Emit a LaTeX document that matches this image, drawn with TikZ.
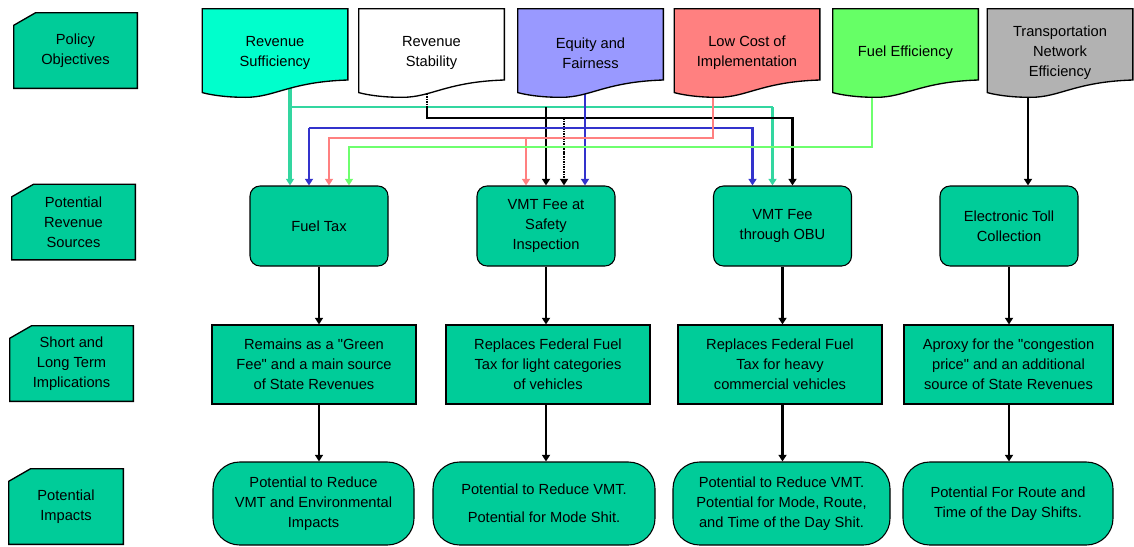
\documentclass[tikz,border=0pt]{standalone}
\usepackage{fontspec}
\setmainfont{Liberation Sans}[Ligatures=TeXOff]
\usetikzlibrary{arrows.meta,calc,backgrounds}

% box and line colours
\definecolor{boxgreen}{RGB}{0,204,153}
\definecolor{suffcol}{RGB}{0,255,204}
\definecolor{eqcol}{RGB}{153,153,255}
\definecolor{lowcol}{RGB}{255,128,128}
\definecolor{fuelcol}{RGB}{102,255,102}
\definecolor{tnecol}{RGB}{178,178,178}
\definecolor{tealline}{RGB}{51,214,160}
\definecolor{blueline}{RGB}{51,51,204}
\definecolor{pinkline}{RGB}{255,128,128}
\definecolor{greenline}{RGB}{110,255,110}

\tikzset{
  txt/.style={font=\fontsize{11}{15}\selectfont, align=center, inner sep=0pt},
  % row labels on the left (cut top-left corner)
  labelbox/.style={txt, minimum width=#1, minimum height=57.75pt,
    path picture={
      \filldraw[fill=boxgreen, draw=black, line width=1pt]
        let \p1=(path picture bounding box.north west),
            \p2=(path picture bounding box.south east) in
        ({\x1+0.5pt},{\y1-10pt}) -- ({\x1+17pt},{\y1-0.5pt})
        -- ({\x2-0.5pt},{\y1-0.5pt}) -- ({\x2-0.5pt},{\y2+0.5pt})
        -- ({\x1+0.5pt},{\y2+0.5pt}) -- cycle;
    }},
  labelbox/.default=93.75pt,
  % policy objectives (document shape with wavy bottom)
  objbox/.style={txt, minimum width=110.25pt, minimum height=67.5pt,
    path picture={
      \filldraw[fill=#1, draw=black, line width=1pt]
        let \p1=(path picture bounding box.north west),
            \p2=(path picture bounding box.south east) in
        ({\x1+0.5pt},{\y1-0.5pt}) -- ({\x2-0.5pt},{\y1-0.5pt})
        -- ({\x2-0.5pt},{\y1-0.8*(\y1-\y2)})
        .. controls ({\x1+0.6*(\x2-\x1)},{\y1-0.82*(\y1-\y2)}) and ({\x1+0.5*(\x2-\x1)},{\y2+0.5pt}) .. ({\x1+0.3*(\x2-\x1)},{\y2+0.5pt})
        .. controls ({\x1+0.15*(\x2-\x1)},{\y2+0.5pt}) and ({\x1+0.05*(\x2-\x1)},{\y2+0.04*(\y1-\y2)}) .. ({\x1+0.5pt},{\y2+0.06*(\y1-\y2)})
        -- cycle;
    }},
  srcbox/.style={txt, draw, fill=boxgreen, line width=0.8pt, rounded corners=7.5pt,
    minimum width=103.5pt, minimum height=60pt},
  impbox/.style={txt, draw, fill=boxgreen, line width=0.8pt,
    minimum width=153pt, minimum height=59.25pt},
  outbox/.style={txt, draw, fill=boxgreen, line width=0.8pt, rounded corners=20pt,
    minimum width=#1, minimum height=62.25pt},
  % connectors
  arr/.style={-{Triangle[width=6pt,length=5pt]}},
  blackln/.style={draw=black, line width=2pt},
  thinblack/.style={draw=black, line width=1.1pt},
  ticked/.style={dash pattern=on 1.2pt off 0.7pt},
  tealthick/.style={draw=tealline, line width=2.4pt},
  tealthin/.style={draw=tealline, line width=1.3pt},
  blueln/.style={draw=blueline, line width=1.8pt},
  pinkln/.style={draw=pinkline, line width=1.4pt},
  greenln/.style={draw=greenline, line width=1.4pt}
}

\begin{document}
\begin{tikzpicture}[x=0.75pt,y=-0.75pt]

  \useasboundingbox (0,0) rectangle (1134,546);

  % Row labels
  \node[labelbox] (lpol) at (75.5,50.5) {Policy\\Objectives};
  \node[labelbox] (lsrc) at (73.5,222) {Potential\\Revenue\\Sources};
  \node[labelbox] (limp) at (71.5,363.5) {Short and\\Long Term\\Implications};
  \node[labelbox=87pt] (lout) at (66,506.5) {Potential\\Impacts};

  % Policy objectives
  \node[objbox=suffcol] (suff) at (275,53) {Revenue\\Sufficiency};
  \node[objbox=white] (stab) at (431.5,53) {Revenue\\Stability};
  \node[objbox=eqcol] (equi) at (590.5,53) {Equity and\\Fairness};
  \node[objbox=lowcol] (lowc) at (747,53) {Low Cost of\\Implementation};
  \node[objbox=fuelcol] (fuel) at (905.5,53) {Fuel Efficiency};
  \node[objbox=tnecol] (tnet) at (1060,53) {Transportation\\Network\\Efficiency};

  % Potential revenue sources
  \node[srcbox] (ftax) at (319,226) {Fuel Tax};
  \node[srcbox] (vsafe) at (546,226) {VMT Fee at\\Safety\\Inspection};
  \node[srcbox] (vobu) at (782.5,226) {VMT Fee\\through OBU};
  \node[srcbox] (etoll) at (1009,226) {Electronic Toll\\Collection};

  % Short and long term implications
  \node[impbox] (iftax) at (314,364.5) {Remains as a "Green\\Fee" and a main source\\of State Revenues};
  \node[impbox] (ivsafe) at (548,364.5) {Replaces Federal Fuel\\Tax for light categories\\of vehicles};
  \node[impbox] (ivobu) at (780,364.5) {Replaces Federal Fuel\\Tax for heavy\\commercial vehicles};
  \node[impbox, minimum width=156.75pt] (ietoll) at (1008.5,364.5) {Aproxy for the "congestion\\price" and an additional\\source of State Revenues};

  % Potential impacts
  \node[outbox=150.75pt] (oftax) at (313.5,503.5) {Potential to Reduce\\VMT and Environmental\\Impacts};
  \node[outbox=166.5pt] (ovsafe) at (544,503.5) {Potential to Reduce VMT.\\[6pt]Potential for Mode Shit.};
  \node[outbox=162.75pt] (ovobu) at (781.5,503.5) {Potential to Reduce VMT.\\Potential for Mode, Route,\\and Time of the Day Shit.};
  \node[outbox=157.5pt] (oetoll) at (1008,503.5) {Potential For Route and\\Time of the Day Shifts.};

  % Arrow ends on the revenue sources
  \coordinate (ft1) at ($(ftax.north)+(-29,0)$);
  \coordinate (ft2) at ($(ftax.north)+(-10,0)$);
  \coordinate (ft3) at ($(ftax.north)+(10,0)$);
  \coordinate (ft4) at ($(ftax.north)+(30,0)$);
  \coordinate (vs1) at ($(vsafe.north)+(-20,0)$);
  \coordinate (vs2) at ($(vsafe.north)+(0,0)$);
  \coordinate (vs3) at ($(vsafe.north)+(18,0)$);
  \coordinate (vs4) at ($(vsafe.north)+(39,0)$);
  \coordinate (vo1) at ($(vobu.north)+(-30,0)$);
  \coordinate (vo2) at ($(vobu.north)+(-10,0)$);
  \coordinate (vo3) at ($(vobu.north)+(10,0)$);
  \coordinate (et1) at ($(etoll.north)+(19,0)$);

  % Knee points of the routed lines
  \coordinate (kteal) at ($(suff)+(15,54)$);
  \coordinate (kblack) at ($(stab)+(-4.5,65)$);
  \coordinate (kblue) at ($(equi)+(-5.5,75)$);
  \coordinate (kpink) at ($(lowc)+(-34,85)$);
  \coordinate (kgreen) at ($(fuel)+(-33.5,94)$);

  \begin{scope}[on background layer]
    % Revenue Sufficiency
    \draw[tealthick, arr] ($(suff)+(15,0)$) -- (ft1);
    \draw[tealthin] (kteal) -- (kteal -| vo2);
    \draw[tealthick, arr] (kteal -| vo2) -- (vo2);

    % Revenue Stability
    \draw[blackln, ticked] ($(stab)+(-4.5,0)$) -- ($(stab)+(-4.5,54)$);
    \draw[blackln, arr] ($(stab)+(-4.5,54)$) -- (kblack) -| (vo3);
    \draw[blackln, arr] (vs2 |- kteal) -- (vs2);
    \draw[blackln, ticked, arr] (vs3 |- kblack) -- (vs3);

    % Equity and Fairness
    \draw[blueln, arr] ($(equi)+(-5.5,0)$) -- (vs4);
    \draw[blueln, arr] (kblue -| ft2) -- (ft2);
    \draw[blueln, arr] (kblue -| ft2) -- (kblue -| vo1) -- (vo1);

    % Low Cost of Implementation
    \draw[pinkln, arr] ($(lowc)+(-34,0)$) -- (kpink) -| (ft3);
    \draw[pinkln, arr] (kpink -| vs1) -- (vs1);

    % Fuel Efficiency
    \draw[greenln, arr] ($(fuel)+(-33.5,0)$) -- (kgreen) -| (ft4);

    % Transportation Network Efficiency
    \draw[blackln, arr] ($(tnet)+(-32,0)$) -- (et1);
  \end{scope}

  % Sources to implications
  \draw[thinblack, arr] (ftax.south) -- (ftax.south |- iftax.north);
  \draw[blackln, arr] (vsafe.south) -- (vsafe.south |- ivsafe.north);
  \draw[blackln, arr] (vobu.south) -- (vobu.south |- ivobu.north);
  \draw[blackln, arr] (etoll.south) -- (etoll.south |- ietoll.north);

  % Implications to impacts
  \draw[thinblack, arr] (ftax.south |- iftax.south) -- (ftax.south |- oftax.north);
  \draw[blackln, arr] (vsafe.south |- ivsafe.south) -- (vsafe.south |- ovsafe.north);
  \draw[blackln, arr] (vobu.south |- ivobu.south) -- (vobu.south |- ovobu.north);
  \draw[blackln, arr] (etoll.south |- ietoll.south) -- (etoll.south |- oetoll.north);

\end{tikzpicture}
\end{document}
